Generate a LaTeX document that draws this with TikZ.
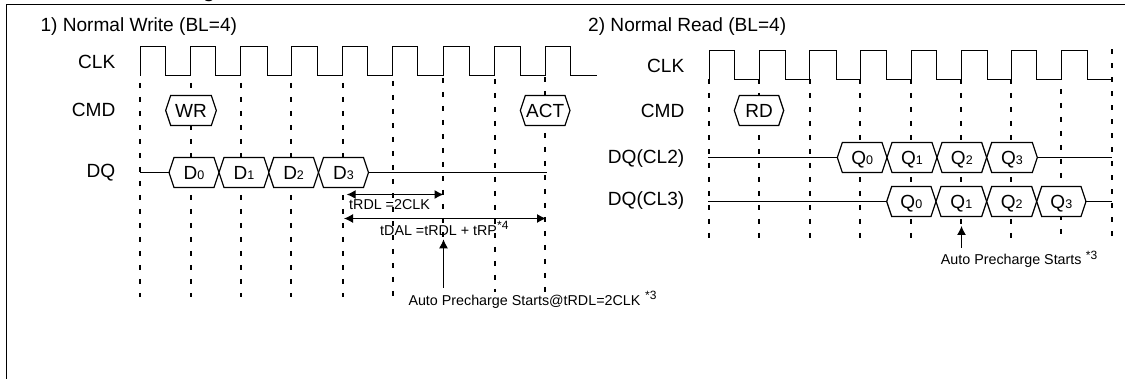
\documentclass[tikz,border=0pt]{standalone}
\usepackage{fontspec}
\setmainfont{Liberation Sans}
\usetikzlibrary{arrows.meta, calc}

% One bus value: name, left tip, right tip, middle height, text
\newcommand{\buscell}[5]{%
    \filldraw[cellline] (#2,#4) -- ({#2+5},{#4-15}) -- ({#3-5},{#4-15}) -- (#3,#4)
        -- ({#3-5},{#4+15}) -- ({#2+5},{#4+15}) -- cycle;
    \node[celltext, minimum width={(#3-#2)*1pt}] (#1) at ({(#2+#3)/2},#4) {#5};
}
\newcommand{\idx}[1]{{\fontsize{12.5}{12.5}\selectfont #1}}

\begin{document}
\begin{tikzpicture}[
    x=1pt, y=-1pt,
    >={Latex[length=9pt,width=9pt]}, % Set default arrow tip style
    wire/.style={line width=1.2pt, line cap=rect}, % Clock and bus lines
    cellline/.style={line width=1.2pt, fill=white, line join=miter},
    guide/.style={line width=2pt, dash pattern=on 5pt off 9pt}, % Dashed clock marks
    measure/.style={line width=1.2pt},
    celltext/.style={inner sep=0pt, outer sep=0pt, minimum height=30pt, text height=13.6pt, text depth=0pt, font=\fontsize{19}{19}\selectfont},
    biglabel/.style={inner sep=0pt, font=\fontsize{19.1}{19.1}\selectfont},
    smalllabel/.style={inner sep=0pt, font=\fontsize{14.3}{14.3}\selectfont},
    starmark/.style={inner sep=0pt, anchor=base west, font=\fontsize{12}{12}\selectfont}
]
    \useasboundingbox (0,0) rectangle (1125,379);

    % --- Frame and cut off heading ---
    \draw[line width=1.3pt] (6.5,379) -- (6.5,4.5) -- (1125,4.5);
    \node[inner sep=0pt, anchor=base, font=\fontsize{20}{20}\selectfont\bfseries] (headtail) at (209,-2.5) {g};

    % --- Titles and signal names ---
    \node[biglabel, anchor=base west] (titlewrite) at (40.3,31.7) {1) Normal Write (BL=4)};
    \node[biglabel, anchor=base west] (titleread) at (588,31.7) {2) Normal Read (BL=4)};
    \foreach \nm/\y/\txt in {wclk/68.3/CLK, wcmd/116.7/CMD, wdq/177.3/DQ} {
        \node[biglabel, anchor=base east] (\nm) at (115.5,\y) {\txt};
    }
    \foreach \nm/\y/\txt in {rclk/72.7/CLK, rcmd/117.3/CMD, rdqa/163.3/DQ(CL2), rdqb/206/DQ(CL3)} {
        \node[biglabel, anchor=base east] (\nm) at (684.5,\y) {\txt};
    }

    % --- Layer 1: Dashed clock marks ---
    \foreach \x/\ya/\yb in {140/83/297, 191/83/297, 241/83/297, 291/83/297, 343/83/297,
                            393/81/297, 443/78/243, 495/79/292, 545/77/292} {
        \draw[guide] (\x,\ya) -- (\x,\yb);
    }
    \foreach \x/\ya/\yb in {709/79/240, 759/79/240, 810/79/240, 860/79/240, 911/79/240,
                            961/79/226, 1011/79/240, 1061/89/237, 1112/49.5/240} {
        \draw[guide] (\x,\ya) -- (\x,\yb);
    }

    % --- Layer 2: Clocks ---
    \foreach \r/\f/\n in {140.5/165.5/190.5, 190.5/215.5/240.5, 240.5/267.5/291.5, 291.5/317.5/342.5,
                          342.5/367.5/392.5, 392.5/417.5/443.5, 443.5/469.5/494.5, 494.5/520.5/545.5,
                          545.5/570.5/596} {
        \draw[wire] (\r,75.5) -- (\r,46.5) -- (\f,46.5) -- (\f,75.5) -- (\n,75.5);
    }
    \foreach \r/\f/\n in {709.5/734.5/759.5, 759.5/785.5/809.5, 809.5/836.5/860.5, 860.5/886.5/911.5,
                          911.5/936.5/961.5, 961.5/987.5/1011.5, 1011.5/1036.5/1061.5, 1061.5/1087.5/1111} {
        \draw[wire] (\r,79.5) -- (\r,50.5) -- (\f,50.5) -- (\f,79.5) -- (\n,79.5);
    }

    % --- Layer 3: Bus cells ---
    \buscell{wr}{165.7}{216.3}{110.5}{WR}
    \buscell{act}{520.3}{570}{110.5}{ACT}
    \buscell{dzero}{169}{219}{172.5}{D\idx{0}}
    \buscell{done}{219}{269}{172.5}{D\idx{1}}
    \buscell{dtwo}{268.7}{318.5}{172.5}{D\idx{2}}
    \buscell{dthree}{318.5}{368.5}{172.5}{D\idx{3}}

    \buscell{rd}{734.3}{783.7}{110.5}{RD}
    \buscell{qazero}{837.3}{887}{157.5}{Q\idx{0}}
    \buscell{qaone}{887}{937}{157.5}{Q\idx{1}}
    \buscell{qatwo}{937}{986.7}{157.5}{Q\idx{2}}
    \buscell{qathree}{986.7}{1037.3}{157.5}{Q\idx{3}}
    \buscell{qbzero}{886.7}{936}{201.5}{Q\idx{0}}
    \buscell{qbone}{936}{986.7}{201.5}{Q\idx{1}}
    \buscell{qbtwo}{986.7}{1036.7}{201.5}{Q\idx{2}}
    \buscell{qbthree}{1036.7}{1086}{201.5}{Q\idx{3}}

    % --- Layer 4: Idle bus lines ---
    \coordinate (wdqin) at (140.5,172.5);
    \coordinate (wdqout) at (546.7,172.5);
    \coordinate (rdqain) at (708.5,157.5);
    \coordinate (rdqaout) at (1111,157.5);
    \coordinate (rdqbin) at (708.5,201.5);
    \coordinate (rdqbout) at (1111,201.5);
    \draw[wire] (wdqin) -- (dzero.west);
    \draw[wire] (dthree.east) -- (wdqout);
    \draw[wire] (rdqain) -- (qazero.west);
    \draw[wire] (qathree.east) -- (rdqaout);
    \draw[wire] (rdqbin) -- (qbzero.west);
    \draw[wire] (qbthree.east) -- (rdqbout);

    % --- Layer 5: Timing arrows and their labels ---
    \coordinate (rdlleft) at (346.7,194.5);
    \coordinate (rdlright) at (443.5,194.5);
    \coordinate (dalleft) at (344,218.5);
    \coordinate (dalright) at (546,218.5);
    \coordinate (wautotail) at (443.5,288);
    \coordinate (wautotip) at (443.5,239.3);
    \coordinate (rautotail) at (961.5,248);
    \coordinate (rautotip) at (961.5,226);
    \draw[<->, measure] (rdlleft) -- (rdlright);
    \draw[<->, measure] (dalleft) -- (dalright);
    \draw[->, measure] (wautotail) -- (wautotip);
    \draw[->, measure] (rautotail) -- (rautotip);

    \node[smalllabel, anchor=base west] (rdltext) at (349,210) {tRDL =2CLK};
    \node[smalllabel, anchor=base west] (daltext) at (380,236) {tDAL =tRDL + tRP};
    \node[starmark] (dalstar) at (497,230) {*4};
    \node[smalllabel, anchor=base west] (wautotext) at (408.3,306) {Auto Precharge Starts@tRDL=2CLK};
    \node[starmark] (wautostar) at (645,300) {*3};
    \node[smalllabel, anchor=base west] (rautotext) at (940.7,265) {Auto Precharge Starts};
    \node[starmark] (rautostar) at (1085.7,259.3) {*3};
\end{tikzpicture}
\end{document}
